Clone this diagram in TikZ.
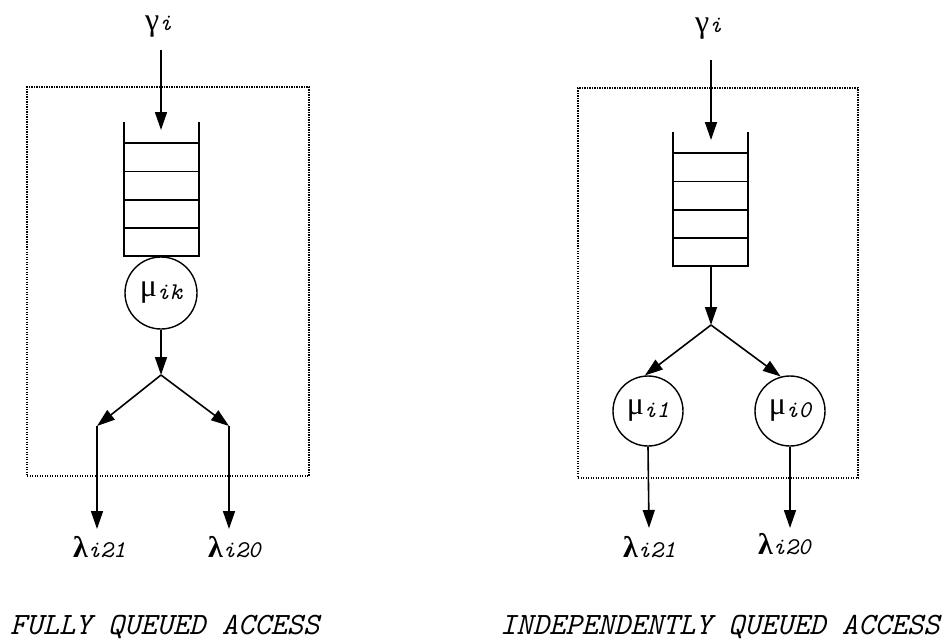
\documentclass[tikz,border=0pt]{standalone}
\usepackage{fontspec}
\usetikzlibrary{arrows.meta,calc}
\newfontfamily\grkf{Liberation Serif}
\newcommand\sbx[1]{{\ttfamily\itshape\fontsize{24}{24}\selectfont #1}}
\newcommand\gk[1]{{\grkf\fontsize{32}{32}\selectfont #1}}
\newcommand\gkb[1]{{\grkf\bfseries\fontsize{30}{30}\selectfont #1}}
\newcommand\capf{\ttfamily\itshape\fontsize{31}{32}\selectfont}
\begin{document}
\begin{tikzpicture}[x=1pt,y=-1pt,
  conn/.style={line width=1.6pt,-{Triangle[length=18pt,width=12pt]}},
  qline/.style={line width=1.7pt},
  dbox/.style={draw,line width=1.1pt,dash pattern=on 1.2pt off 1.3pt,inner sep=0pt},
  srv/.style={circle,draw,line width=1.4pt,inner sep=0pt},
  queue/.style={minimum width=75pt,minimum height=134pt,inner sep=0pt},
  lbl/.style={inner sep=0pt,anchor=base west}]
\useasboundingbox (0,0) rectangle (950,643);
\fill[white] (0,0) rectangle (950,643);

% ---------- left: fully queued ----------
\node[dbox,minimum width=282pt,minimum height=389pt] (box1) at (168,281.5) {};
\node[lbl] (g1) at (145,30) {\gk{γ}\sbx{i}};
\node[queue] (q1) at (161.5,189) {};
\draw[qline] (q1.north west) -- (q1.south west) -- (q1.south east) -- (q1.north east);
\foreach \f in {0.21,0.42,0.63,0.84}
  \draw[qline] ($(q1.south west)!\f!(q1.north west)$) -- ($(q1.south east)!\f!(q1.north east)$);
\node[srv,minimum size=72pt] (c1) at (161,293) {\gk{μ}\raisebox{-3pt}{\sbx{ik}}};
\coordinate (a1) at (161,50);
\coordinate (a1e) at (161,130);
\coordinate (s1) at (161,375);
\coordinate (b1l) at (97,426);
\coordinate (b1r) at (229,426);
\coordinate (o1l) at (97,529);
\coordinate (o1r) at (229,529);
\draw[conn] (a1) -- (a1e);
\draw[conn] (c1.south) -- (s1);
\draw[conn] (s1) -- (b1l);
\draw[conn] (s1) -- (b1r);
\draw[conn] (b1l) -- (o1l);
\draw[conn] (b1r) -- (o1r);
\node[lbl] (l1) at (73,557) {\gkb{λ}\sbx{i21}};
\node[lbl] (l2) at (208,557) {\gkb{λ}\sbx{i20}};
\node[lbl] (cap1) at (10,634) {\capf FULLY QUEUED ACCESS};

% ---------- right: independently queued ----------
\node[dbox,minimum width=280pt,minimum height=390pt] (box2) at (718,283) {};
\node[lbl] (g2) at (695,32) {\gk{γ}\sbx{i}};
\node[queue] (q2) at (710.5,199) {};
\draw[qline] (q2.north west) -- (q2.south west) -- (q2.south east) -- (q2.north east);
\foreach \f in {0.21,0.42,0.63,0.84}
  \draw[qline] ($(q2.south west)!\f!(q2.north west)$) -- ($(q2.south east)!\f!(q2.north east)$);
\node[srv,minimum size=70pt] (c2) at (648,411) {\gk{μ}\raisebox{-3pt}{\sbx{i1}}};
\node[srv,minimum size=70pt] (c3) at (790,411) {\gk{μ}\raisebox{-3pt}{\sbx{i0}}};
\coordinate (a2) at (711,60);
\coordinate (a2e) at (711,140);
\coordinate (s2) at (711,325);
\coordinate (o2l) at (649,528);
\coordinate (o2r) at (790,528);
\draw[conn] (a2) -- (a2e);
\draw[conn] (q2.south -| s2) -- (s2);
\draw[conn] (s2) -- (c2.95);
\draw[conn] (s2) -- (c3.105);
\draw[conn] (c2.south) -- (o2l);
\draw[conn] (c3.south) -- (o2r);
\node[lbl] (l3) at (623,557) {\gkb{λ}\sbx{i21}};
\node[lbl] (l4) at (758,554) {\gkb{λ}\sbx{i20}};
\node[lbl] (cap2) at (500,634) {\capf INDEPENDENTLY QUEUED ACCESS};
\end{tikzpicture}
\end{document}
